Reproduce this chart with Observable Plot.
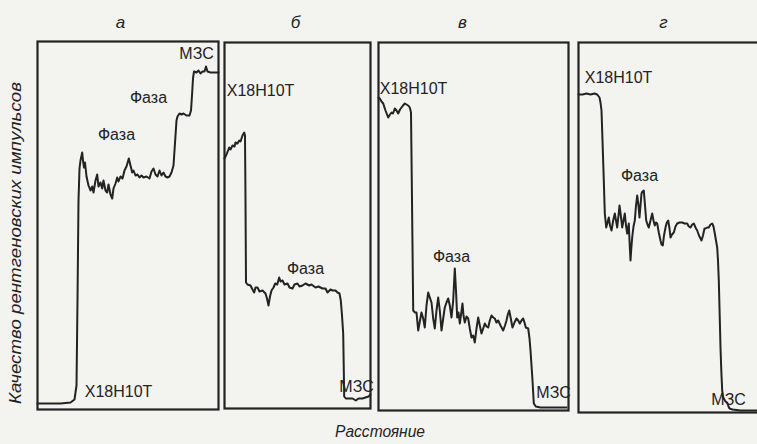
<!DOCTYPE html>
<html><head><meta charset="utf-8">
<script src="https://cdn.jsdelivr.net/npm/d3@7"></script>
<script src="https://cdn.jsdelivr.net/npm/@observablehq/plot@0.6"></script>
<style>
html,body{margin:0;padding:0;background:#f3f3f0;}
#fig{position:relative;width:757px;height:444px;overflow:hidden;background:#f3f3f0;}
.panel{position:absolute;top:0;}
.panel svg{max-width:none !important;}
#labels{position:absolute;left:0;top:0;}
</style></head><body><div id="fig"></div>
<script>
// ---- Panel а : distance (arb.) and X-ray pulse count (arb.)
const aDist  = [0,23,33,37,39,40,41,42,43,44.7,45.5,46.5,47.5,49,51,53,54.7,56,58,59.7,61,63,64.7,66,68,69.7,71,73,74.7,76,78,79.7,81,83,85,87,89,91.3,93,94.7,96,98,100,102,104,106,109,112,114,116,118,120,122,124,126,128,130,132,134,136,137,138,139,140,142,144,146,149,152,153.5,154.5,155.5,156.5,159,161,163,165,167,168.5,170,173,177,181];
const aCount = [6,6,7,10,24,109,209,241,249,257,249,242,247,233,224,219,223,217,229,235,223,227,221,229,219,217,225,215,211,221,226,232,228,233,231,239,243,251,244,237,239,234,235,232,234,232,233,231,238,241,235,233,239,234,237,233,232,233,237,244,259,274,289,293,296,295,296,294,294,299,314,331,338,337,339,336,338,338,343,338,337,337,337];
const aLabels = ["МЗС","Фаза","Фаза","Х18Н10Т"];
const aLabelX = [159,111,79,81];
const aLabelY = [356,312,275,18];

// ---- Panel б
const bDist  = [0,2,4.7,6,8,10,11,13,14.7,16,18,19.7,20.5,21,21.5,23,26,28,29.7,31,33,35,38,41,42.5,44,45.5,47,49,50.7,52.7,54.7,56,58,60,63,65,68,70,73,75,78,81,84.7,87,91,94,98,101,103,106,108,111,113,115,116.3,117.5,118.7,119.3,119.7,121.3,125,128,131.3,134,138,141,144,146];
const bCount = [250,254,261,259,263,262,266,265,268,267,273,276,273,208,126,124,123,119,116,121,121,117,118,115,110,103,112,118,121,125,124,131,127,128,124,125,121,120,124,125,122,123,125,123,124,121,122,120,120,116,119,118,118,116,115,108,93,75,38,12,10,10,10,8,10,10,11,12,14];
const bLabels = ["Х18Н10Т","Фаза","МЗС"];
const bLabelX = [36,81,132];
const bLabelY = [318,140,22];

// ---- Panel в
const cDist  = [0,1.3,3,4.7,7,9.7,11.5,13,14.5,16.3,18,19.7,21.5,23,24.5,26.3,28,29.7,31.3,32.5,33.5,34.7,36.5,38,39.7,41.5,43,44.7,46.3,48,49.7,51.3,53,54.7,56.3,58,59.7,61.3,63,64.7,66.3,68,69.7,71.3,73,74.7,76.3,77.5,78.7,80,81.3,82.7,84,85,86.3,88,89.7,91.3,93,94.7,96.3,98,99.7,101.3,103,104.7,106.3,108,109.7,111.3,113,114.7,116.3,118,119.7,122,124.7,126.5,128,129.3,130.7,132.3,134,136,138,139.7,141.3,143,144.7,146,147.3,149.7,151,152,153,154,155.3,157.3,162,171,180,188];
const cCount = [313,312,309,307,300,293,296,298,297,302,300,297,301,303,305,307,306,305,303,298,210,100,98,98,80,90,98,92,83,105,118,113,108,92,82,100,113,100,80,92,103,108,112,105,93,110,142,120,93,98,87,97,107,95,88,94,92,82,73,75,68,82,93,85,77,82,87,84,83,90,95,93,92,88,90,85,80,85,90,96,100,92,83,88,92,90,87,90,92,88,83,82,72,60,45,30,7,4,3,3,3,3];
const cLabels = ["Х18Н10Т","Фаза","МЗС"];
const cLabelX = [35,73,175];
const cLabelY = [322,154,18];

// ---- Panel г
const dDist  = [0,4,8,12,16,18.7,21,22,23,24,25.3,26.3,27.7,29,30.3,31.5,33,34.7,36.3,37.5,38.7,40,41,42.3,43.7,45,46.3,47.5,48.7,49.5,50.3,51,52,52.8,53.7,55,56.3,57.5,58.7,60,61,62,63,64,65.3,66.5,67.7,69,70.3,72,73.7,75,76.3,77.5,78.7,80.3,82,83,84.3,85.5,87,88.3,89.7,91,92,93.5,95.3,97,98.7,101,103.7,106,108.7,110.3,112,113.7,115.3,117,118.7,120.5,122,123,124.5,126,127,128.7,130.3,132,133.7,135,136.3,137.5,138.7,139.5,140.3,141.2,142,142.8,143.7,144.5,145.3,147,148.7,150,151,154,162,172,182];
const dCount = [318,318,319,318,319,318,315,310,302,272,232,199,185,190,195,187,182,192,199,192,185,197,207,197,185,192,199,187,179,184,189,172,152,164,175,186,192,207,217,207,195,207,219,221,222,207,192,188,185,192,199,192,187,190,189,180,172,168,167,177,185,190,192,184,175,178,180,186,189,190,190,189,189,186,185,188,189,185,182,177,174,172,177,184,184,185,185,188,189,186,179,172,165,152,132,97,65,42,22,16,14,11,10,6,4,3,2,2,2];
const dLabels = ["Х18Н10Т","Фаза","МЗС"];
const dLabelX = [40,61,150];
const dLabelY = [335,237,13];

const panelLetters = ["а","б","в","г"];
const letterX = [83,71,84,85];
const letterY = [387,386,388,390];

const yTitle = "Качество рентгеновских импульсов";
const xTitle = "Расстояние";

// ---- layout (pixels)
const layout = [
  {left:37,  top:41, W:181, H:368},
  {left:224, top:42, W:146, H:366},
  {left:378, top:42, W:190, H:368},
  {left:578, top:42, W:184, H:370}
];
const series = [
  [aDist,aCount,aLabels,aLabelX,aLabelY],
  [bDist,bCount,bLabels,bLabelX,bLabelY],
  [cDist,cCount,cLabels,cLabelX,cLabelY],
  [dDist,dCount,dLabels,dLabelX,dLabelY]
];
const ink = "#232323";
const labelFont = "'Liberation Sans',Arial,sans-serif";
const fig = document.getElementById("fig");

series.forEach(([dist,count,labs,lx,ly],i)=>{
  const L = layout[i];
  const pts = dist.map((d,k)=>({d, c: count[k]}));
  const lab = labs.map((t,k)=>({t, x: lx[k], y: ly[k]}));
  const isLast = (i===3);
  const chart = Plot.plot({
    width: L.W+4, height: L.top+L.H+2,
    marginLeft:2, marginRight:2, marginTop:L.top, marginBottom:2,
    x:{domain:[0,L.W], axis:null},
    y:{domain:[0,L.H], axis:null},
    style:{background:"transparent", overflow:"visible", maxWidth:"none"},
    marks:[
      Plot.frame({stroke:ink, strokeWidth:2.2}),
      Plot.line(pts,{x:"d", y:"c", stroke:ink, strokeWidth:2, strokeLinejoin:"round"}),
      Plot.text(lab,{x:"x", y:"y", text:"t", fill:ink, fontSize:16, fontFamily:labelFont,
        textAnchor: d => (isLast && d.t==="МЗС") ? "start" : "middle"}),
      Plot.text([panelLetters[i]],{x:()=>letterX[i], y:()=>letterY[i], text:d=>d, fill:ink,
        fontSize:17, fontStyle:"italic", fontFamily:"'Liberation Sans',sans-serif"})
    ]
  });
  chart.style.maxWidth = "none";
  const div = document.createElement("div");
  div.className = "panel";
  div.style.left = (L.left-2)+"px";
  div.style.width = (L.W+4)+"px";
  div.appendChild(chart);
  fig.appendChild(div);
});

// axis titles
const svg = d3.select(fig).append("svg").attr("id","labels")
  .attr("width",757).attr("height",444);
svg.append("text")
  .attr("transform","translate(21,243) rotate(-90)")
  .attr("text-anchor","middle")
  .attr("font-family",labelFont).attr("font-style","italic").attr("font-size",17)
  .attr("fill",ink)
  .attr("textLength",322).attr("lengthAdjust","spacingAndGlyphs")
  .text(yTitle);
svg.append("text")
  .attr("x",380).attr("y",437)
  .attr("text-anchor","middle")
  .attr("font-family",labelFont).attr("font-style","italic").attr("font-size",16)
  .attr("fill",ink)
  .attr("textLength",90).attr("lengthAdjust","spacingAndGlyphs")
  .text(xTitle);
</script>
</body></html>
